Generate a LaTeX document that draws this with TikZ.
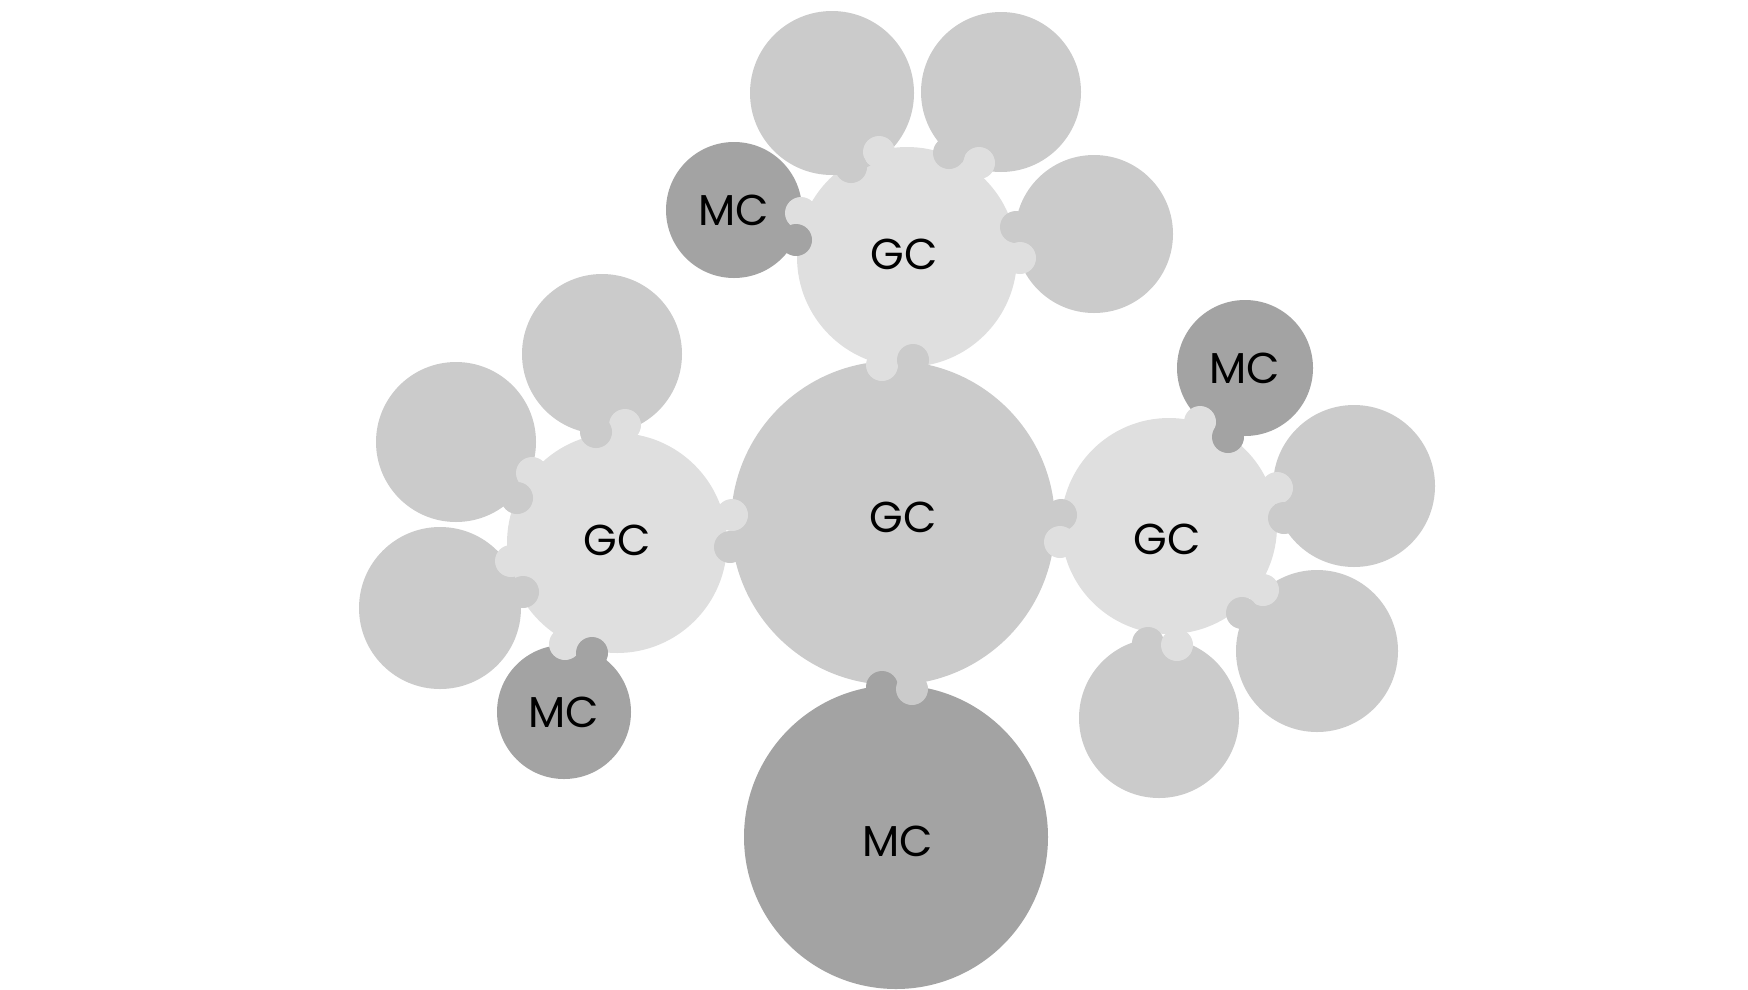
\documentclass[tikz,border=0pt]{standalone}
\usepackage{fontspec}
\setmainfont{Poppins}
\usepackage{tikz}

\definecolor{gclight}{HTML}{DFDFDF}
\definecolor{cellgray}{HTML}{CBCBCB}
\definecolor{mcdark}{HTML}{A3A3A3}

\tikzset{
    blob/.style 2 args={circle, inner sep=0pt, fill=#1, minimum size=#2},
    tag/.style={inner sep=0pt, font=\fontsize{12.3}{14}\selectfont},
}

\begin{document}
\begin{tikzpicture}[x=0.1mm, y=-0.1mm]
\useasboundingbox (0,0) rectangle (1748,989);

% Light GCs
\node[blob={gclight}{22mm}, label={[tag, shift={(-0.3mm,0.3mm)}]center:GC}] (gct) at (907,257) {};
\node[blob={gclight}{22mm}, label={[tag, shift={(0,0.3mm)}]center:GC}] (gcl) at (617,543) {};
\node[blob={gclight}{21.6mm}, label={[tag, shift={(-0.2mm,-1.3mm)}]center:GC}] (gcr) at (1169,526) {};

% Central GC and its MC
\node[blob={cellgray}{32.4mm}, label={[tag, shift={(1mm,0.6mm)}]center:GC}] (gc) at (893,523) {};
\node[blob={mcdark}{30.4mm}, label={[tag, shift={(0.2mm,-0.4mm)}]center:MC}] (mc) at (896,837) {};

% Small MCs
\node[blob={mcdark}{13.6mm}, label={[tag]center:MC}] (mct) at (734,210) {};
\node[blob={mcdark}{13.4mm}, label={[tag]center:MC}] (mcl) at (564,712) {};
\node[blob={mcdark}{13.6mm}, label={[tag]center:MC}] (mcr) at (1245,368) {};

% Satellites
\node[blob={cellgray}{16.4mm}] (st1) at (832,93) {};
\node[blob={cellgray}{16mm}] (st2) at (1001,92) {};
\node[blob={cellgray}{15.8mm}] (st3) at (1094,234) {};
\node[blob={cellgray}{16mm}] (sl1) at (602,354) {};
\node[blob={cellgray}{16mm}] (sl2) at (456,442) {};
\node[blob={cellgray}{16.2mm}] (sl3) at (440,608) {};
\node[blob={cellgray}{16.2mm}] (sr1) at (1354,486) {};
\node[blob={cellgray}{16.2mm}] (sr2) at (1317,651) {};
\node[blob={cellgray}{16mm}] (sr3) at (1159,718) {};

% Knobs, two per joint
\foreach \x/\y/\c in {801/213/gclight, 796/240/mcdark,
    879/152/gclight, 851/167/cellgray, 979/163/gclight, 949/153/cellgray,
    1016/227/cellgray, 1020/258/gclight, 882/365/gclight, 913/360/cellgray,
    882/687/mcdark, 912/689/cellgray,
    625/425/gclight, 596/432/cellgray, 532/473/gclight, 517/498/cellgray,
    511/561/gclight, 523/592/cellgray, 565/644/gclight, 592/653/mcdark,
    732/515/gclight, 730/547/cellgray,
    1061/515/cellgray, 1060/542/gclight, 1200/422/gclight, 1228/437/mcdark,
    1277/488/gclight, 1284/518/cellgray, 1263/590/gclight, 1242/613/cellgray,
    1148/643/cellgray, 1177/645/gclight}
{
    \fill[\c] (\x,\y) circle (1.6mm);
}

\end{tikzpicture}
\end{document}
